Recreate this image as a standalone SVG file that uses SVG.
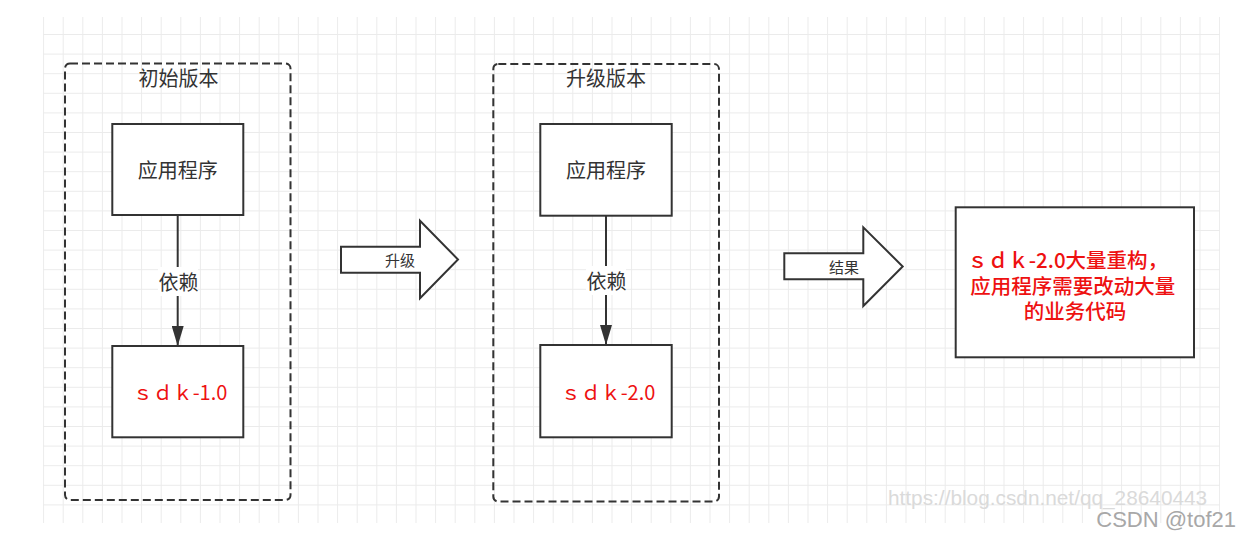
<svg xmlns="http://www.w3.org/2000/svg" width="1241" height="541" viewBox="0 0 1241 541">
<style>
.t{font-family:"Noto Sans CJK SC","Noto Sans",sans-serif;fill:#333;text-anchor:middle;dominant-baseline:central}
.r{fill:#ee1111}
.box{fill:#fff;stroke:#333;stroke-width:2}
.grp{fill:none;stroke:#333;stroke-width:2;stroke-dasharray:8 4}
.conn{stroke:#333;stroke-width:2;fill:none}
.blk{fill:#fff;stroke:#333;stroke-width:2;stroke-linejoin:miter}
.wm{font-family:"Liberation Sans",Arial,sans-serif}
</style>
<defs>
<pattern id="grid" x="43.1" y="14.4" width="19.6" height="19.6" patternUnits="userSpaceOnUse">
<path d="M0 0.5H19.6M0.5 0V19.6" stroke="#ebebeb" stroke-width="1" fill="none"/>
</pattern>
<marker id="ah" markerWidth="20" markerHeight="12" refX="20" refY="6" orient="auto" markerUnits="userSpaceOnUse" viewBox="0 0 20 12">
<path d="M0 0L20 6L0 12Z" fill="#333"/>
</marker>
</defs>
<rect width="1241" height="541" fill="#fff"/>
<rect x="43" y="17" width="1177" height="506" fill="url(#grid)"/>

<g id="group-initial">
<rect class="grp" x="65" y="63.5" width="225.5" height="436.5" rx="5"/>
<text class="t" x="178.5" y="77" font-size="20">初始版本</text>
</g>
<g id="group-upgrade">
<rect class="grp" x="493.3" y="64" width="225.7" height="437.5" rx="5"/>
<text class="t" x="606" y="77" font-size="20">升级版本</text>
</g>

<g id="connectors">
<line class="conn" x1="177.7" y1="215" x2="177.7" y2="346" marker-end="url(#ah)"/>
<rect x="158" y="267" width="40" height="29" fill="#fff"/>
<text class="t" x="178.5" y="281.5" font-size="20">依赖</text>
<line class="conn" x1="606" y1="215.7" x2="606" y2="345" marker-end="url(#ah)"/>
<rect x="586" y="266" width="40" height="29" fill="#fff"/>
<text class="t" x="606.5" y="280.5" font-size="20">依赖</text>
</g>

<g id="app1">
<rect class="box" x="112.3" y="124" width="131" height="91"/>
<text class="t" x="177.8" y="169.5" font-size="20">应用程序</text>
</g>
<g id="sdk1">
<rect class="box" x="112.3" y="346" width="131" height="91.3"/>
<text class="t r" x="180" y="391.5" font-size="20">ｓｄｋ-1.0</text>
</g>
<g id="app2">
<rect class="box" x="540.3" y="124" width="131.4" height="91.7"/>
<text class="t" x="606" y="169.5" font-size="20">应用程序</text>
</g>
<g id="sdk2">
<rect class="box" x="540.3" y="345" width="131.4" height="92.3"/>
<text class="t r" x="608" y="391.5" font-size="20">ｓｄｋ-2.0</text>
</g>

<g id="arrow-upgrade">
<path class="blk" d="M341 246.7H420V220.7L458 259.5L420 298.3V272.7H341Z"/>
<text class="t" x="400" y="259.5" font-size="15">升级</text>
</g>
<g id="arrow-result">
<path class="blk" d="M784.3 253.3H863.3V227.3L902.7 266.5L863.3 306V279.3H784.3Z"/>
<text class="t" x="844" y="266" font-size="15">结果</text>
</g>

<g id="result">
<rect class="box" x="955.7" y="207.3" width="238.3" height="150"/>
<text class="t r" font-size="20.5" font-weight="500">
<tspan x="1070" y="258.5">ｓｄｋ-2.0大量重构，</tspan>
<tspan x="1075" y="284.5">应用程序需要改动大量</tspan>
<tspan x="1075" y="310">的业务代码</tspan>
</text>
</g>

<text class="wm" x="888" y="505" font-size="20.8" fill="#dadada">https://blog.csdn.net/qq_28640443</text>
<text class="wm" x="1236" y="527" font-size="22" fill="#a8a8a8" text-anchor="end">CSDN @tof21</text>
</svg>
